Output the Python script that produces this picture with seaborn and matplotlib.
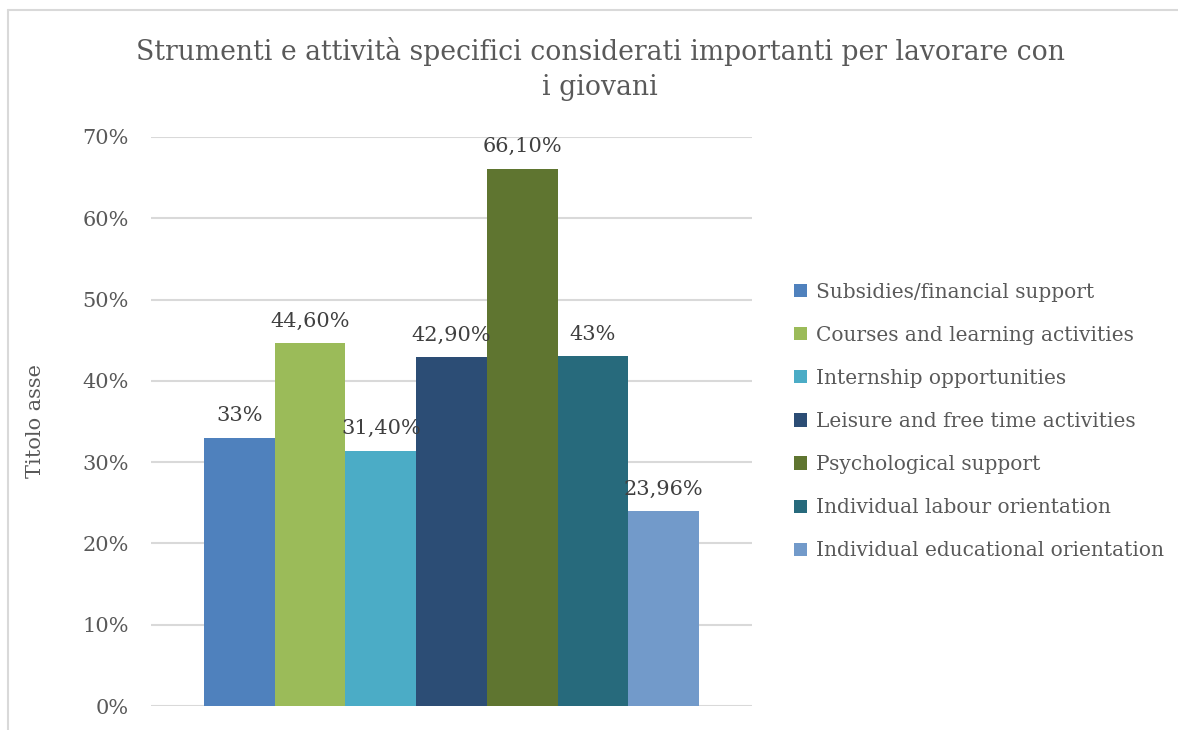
import pandas as pd
import matplotlib
matplotlib.use("Agg")
import matplotlib.pyplot as plt
import seaborn as sns

categories = [
    "Subsidies/financial support",
    "Courses and learning activities",
    "Internship opportunities",
    "Leisure and free time activities",
    "Psychological support",
    "Individual labour orientation",
    "Individual educational orientation",
]
values = [33, 44.6, 31.4, 42.9, 66.1, 43, 23.96]
value_labels = ["33%", "44,60%", "31,40%", "42,90%", "66,10%", "43%", "23,96%"]
colors = ["#4F81BD", "#9BBB59", "#4BACC6", "#2C4D75", "#5F7530", "#276A7C", "#729ACA"]
yticks = [0, 10, 20, 30, 40, 50, 60, 70]
title = "Strumenti e attività specifici considerati importanti per lavorare con\ni giovani"
ylabel = "Titolo asse"

sns.set_style("white")
plt.rcParams['font.family'] = ['DejaVu Serif']

df = pd.DataFrame({'group': [''] * len(categories), 'category': categories, 'value': values})

fig = plt.figure(figsize=(11.78, 7.3), dpi=100)
ax = fig.add_axes([151 / 1178, 24 / 730, 601 / 1178, 569 / 730])

sns.barplot(data=df, x='group', y='value', hue='category', hue_order=categories,
            palette=colors, width=0.824, saturation=1, linewidth=0, ax=ax, legend=True)

ax.set_xlim(-0.5, 0.5)
ax.set_ylim(0, 70)
ax.set_yticks(yticks)
ax.set_yticklabels([f"{t}%" for t in yticks], fontsize=15, color='#595959')
ax.set_xticks([])
ax.set_xlabel('')
ax.set_ylabel(ylabel, fontsize=15, color='#595959', labelpad=27)
ax.tick_params(axis='y', length=0, pad=16)
for s in ax.spines.values():
    s.set_visible(False)
ax.grid(axis='y', color='#D9D9D9', linewidth=1.5)
ax.set_axisbelow(True)

# etichette dei valori sopra le barre
for container, lab in zip(ax.containers, value_labels):
    ax.bar_label(container, labels=[lab], padding=9, fontsize=15, color='#404040', zorder=5)

leg = ax.legend(loc='center left', bbox_to_anchor=(1.04, 0.50), frameon=False,
                fontsize=14.5, handlelength=0.65, handleheight=0.65, handletextpad=0.45,
                labelspacing=1.2)
for t in leg.get_texts():
    t.set_color('#595959')

fig.text(600 / 1178, 1 - 69 / 730, title, ha='center', va='center', fontsize=19.2,
         color='#595959', linespacing=1.42)

# bordo grigio del riquadro del grafico
fig.add_artist(plt.Line2D([8 / 1178, 1], [1 - 10 / 730, 1 - 10 / 730], color='#D9D9D9', lw=1.5))
fig.add_artist(plt.Line2D([8 / 1178, 8 / 1178], [0, 1 - 10 / 730], color='#D9D9D9', lw=1.5))

fig.savefig('out.png', dpi=100, facecolor='white')
